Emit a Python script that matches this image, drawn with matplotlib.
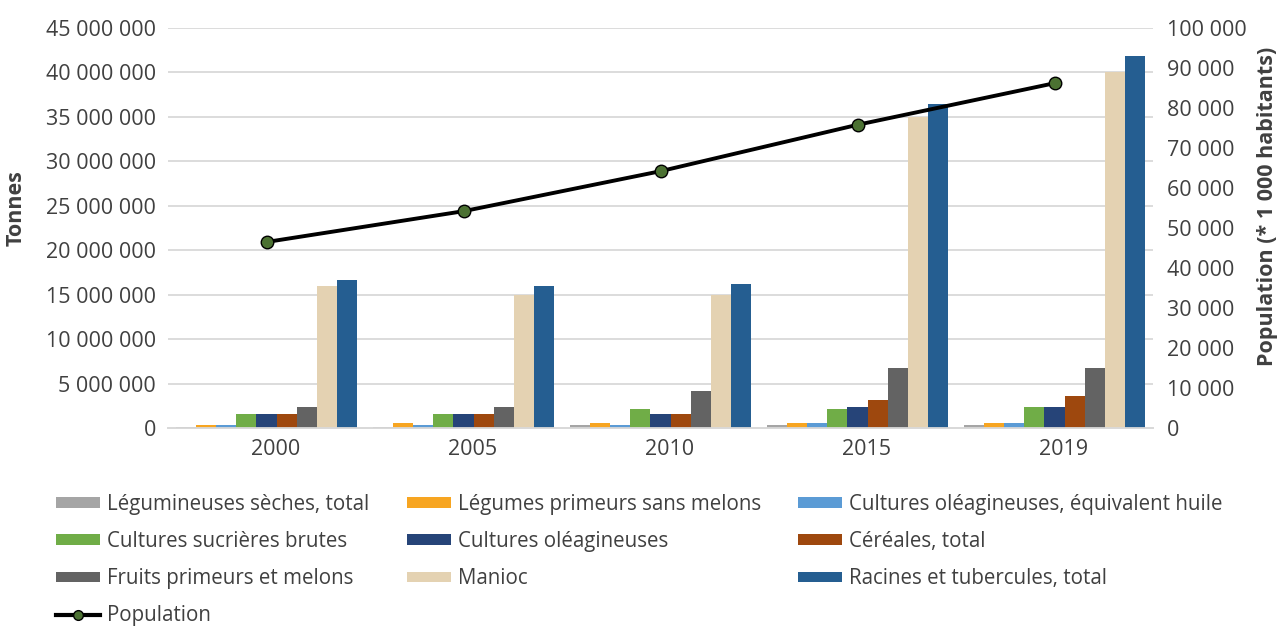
import matplotlib
matplotlib.use('Agg')
import matplotlib.pyplot as plt
import matplotlib.transforms as mtransforms
from matplotlib.lines import Line2D
from matplotlib.patches import Patch
from matplotlib.ticker import FuncFormatter
import numpy as np

plt.rcParams['font.family'] = ['Open Sans', 'DejaVu Sans']

# données
annees = ["2000", "2005", "2010", "2015", "2019"]
series = [
    "Légumineuses sèches, total",
    "Légumes primeurs sans melons",
    "Cultures oléagineuses, équivalent huile",
    "Cultures sucrières brutes",
    "Cultures oléagineuses",
    "Céréales, total",
    "Fruits primeurs et melons",
    "Manioc",
    "Racines et tubercules, total",
]
legumineuses = [150000, 150000, 300000, 300000, 300000]
legumes_primeurs = [300000, 580000, 580000, 580000, 580000]
oleagineuses_huile = [300000, 300000, 300000, 580000, 580000]
sucrieres = [1600000, 1600000, 2100000, 2100000, 2400000]
oleagineuses = [1600000, 1600000, 1600000, 2400000, 2400000]
cereales = [1600000, 1600000, 1600000, 3150000, 3650000]
fruits_primeurs = [2400000, 2400000, 4200000, 6750000, 6750000]
manioc = [16000000, 15000000, 15000000, 35000000, 40000000]
racines = [16700000, 16000000, 16200000, 36500000, 41800000]
population = [46500, 54200, 64200, 75800, 86200]

valeurs = [legumineuses, legumes_primeurs, oleagineuses_huile, sucrieres,
           oleagineuses, cereales, fruits_primeurs, manioc, racines]
couleurs = ["#A5A5A5", "#F7A521", "#5B9BD5", "#70AD47", "#264478",
            "#9E480E", "#636363", "#E4D2B2", "#255E91"]

def espace_milliers(v, pos):
    return "{:,.0f}".format(v).replace(",", " ")

fig = plt.figure(figsize=(12.82, 6.28), dpi=100)
ax = fig.add_axes([168/1282, 1-428/628, 985/1282, 400/628])
ax2 = ax.twinx()

x = np.arange(len(annees))
larg = 0.102
for i, (nom, v) in enumerate(zip(series, valeurs)):
    ax.bar(x + (i - 4) * larg, v, larg, color=couleurs[i], label=nom, zorder=3)

ax.set_xlim(-0.5, len(annees) - 0.5)
ax.set_ylim(0, 45000000)
ax.set_yticks(np.arange(0, 45000001, 5000000))
ax.yaxis.set_major_formatter(FuncFormatter(espace_milliers))
ax.set_xticks(x)
ax.set_xticklabels(annees)
ax.grid(axis='y', color='#D9D9D9', linewidth=1.3, zorder=0)
ax.set_axisbelow(True)

ax2.plot(x, population, color='black', linewidth=2.8, marker='o', markersize=9,
         markerfacecolor='#4B7132', markeredgecolor='black', markeredgewidth=1, zorder=5)
ax2.set_ylim(0, 100000)
ax2.set_yticks(np.arange(0, 100001, 10000))
ax2.yaxis.set_major_formatter(FuncFormatter(espace_milliers))

for a in (ax, ax2):
    for s in ['top', 'left', 'right']:
        a.spines[s].set_visible(False)
    a.spines['bottom'].set_color('#D9D9D9')
    a.spines['bottom'].set_linewidth(1.3)
    a.tick_params(length=0, labelsize=15.5, colors='#404040')
ax.tick_params(axis='y', pad=8.5)
ax.tick_params(axis='x', pad=8)
ax2.tick_params(axis='y', pad=10)

# décalage des années comme dans l'original
decal = mtransforms.ScaledTranslation(9/100, 0, fig.dpi_scale_trans)
for lab in ax.get_xticklabels():
    lab.set_transform(lab.get_transform() + decal)

ax.set_ylabel("Tonnes", fontsize=15.5, fontweight='bold', color='#404040')
ax2.set_ylabel("Population (* 1 000 habitants)", fontsize=15.5, fontweight='bold',
               color='#404040')
ax.yaxis.set_label_coords((27-168)/985, 0.55)
ax2.yaxis.set_label_coords((1257-168)/985, 0.553)

# légende
poignees = [Patch(facecolor=c) for c in couleurs]
pop = Line2D([], [], color='black', linewidth=3, marker='o', markersize=7,
             markerfacecolor='#4B7132', markeredgecolor='black')
ordre = [0, 3, 6, None, 1, 4, 7, 2, 5, 8]
h = [pop if i is None else poignees[i] for i in ordre]
l = ["Population" if i is None else series[i] for i in ordre]
leg = fig.legend(h, l, ncol=3, loc='upper left', bbox_to_anchor=(48/1282, 1-486/628),
                 frameon=False, fontsize=14.8, handlelength=2.15, handleheight=0.44,
                 handletextpad=0.34, columnspacing=1.8, labelspacing=0.78,
                 borderaxespad=0)
for t in leg.get_texts():
    t.set_color('#404040')

fig.savefig("out.png", dpi=100)
